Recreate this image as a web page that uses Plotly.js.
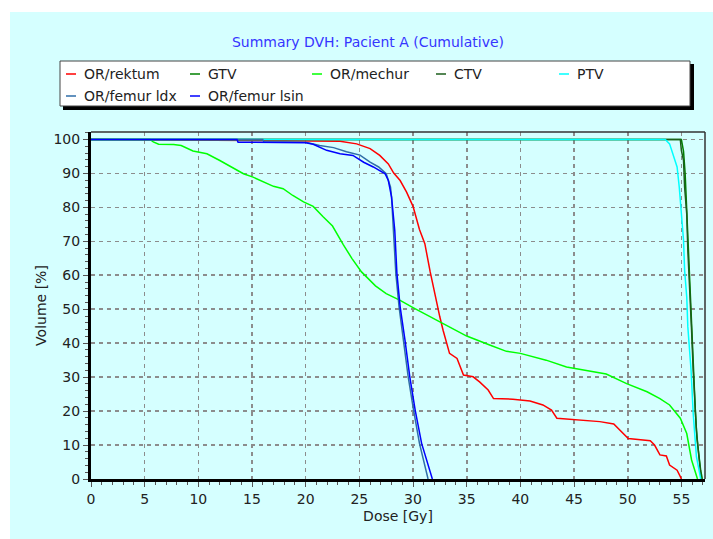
<!DOCTYPE html>
<html>
<head>
<meta charset="utf-8">
<script src="https://cdn.plot.ly/plotly-3.0.1.min.js"></script>
<style>html,body{margin:0;padding:0;background:#fff;}</style>
</head>
<body>
<div id="chart" style="width:713px;height:539px;"></div>
<script>
// ---- Data ----
const seriesNames = ["OR/rektum", "GTV", "OR/mechur", "CTV", "PTV", "OR/femur ldx", "OR/femur lsin"];
const seriesColors = ["#FF0000", "#008000", "#00FF00", "#1B5E1B", "#00FFFF", "#2F6EA8", "#0000FF"];

const doseRektum = [0, 23.2, 24.75, 26.0, 26.9, 27.7, 28.2, 28.8, 29.4, 30.0, 30.6, 31.1, 31.6, 32.0, 32.5, 32.8, 33.4, 34.1, 34.7, 35.6, 36.2, 37.0, 37.5, 39.3, 40.9, 42.1, 42.9, 43.4, 44.9, 46.2, 47.4, 48.7, 49.3, 50.05, 52.1, 52.5, 53.0, 53.6, 53.9, 54.6, 54.9, 55.0];
const volRektum  = [100, 99.5, 98.7, 97.3, 95.3, 92.8, 90.1, 87.9, 84.5, 80.3, 73.5, 69.3, 61.0, 54.6, 47.7, 43.8, 37.0, 35.5, 30.6, 30.1, 28.6, 26.2, 23.7, 23.5, 23.0, 21.8, 20.3, 17.9, 17.5, 17.2, 16.9, 16.2, 14.4, 11.9, 11.3, 10.0, 7.1, 6.8, 4.1, 2.6, 0.7, 0];

const doseGTV = [0, 55.0, 55.2, 55.35, 55.5, 55.65, 55.8, 55.95, 56.1, 56.3, 56.45, 56.65, 56.8, 56.95];
const volGTV  = [100, 100, 96.5, 90.0, 79.0, 67.0, 55.0, 43.0, 31.0, 20.0, 12.0, 6.0, 2.5, 0];

const doseMechur = [0, 5.5, 5.8, 6.3, 7.7, 8.4, 9.5, 10.8, 12.0, 14.2, 15.1, 17.0, 17.9, 18.8, 19.8, 20.7, 21.6, 22.5, 23.5, 24.3, 25.2, 26.5, 27.5, 28.8, 30.0, 31.0, 32.5, 35.0, 37.2, 38.7, 40.0, 42.4, 44.3, 46.8, 48.0, 49.9, 51.8, 53.0, 53.9, 54.9, 55.5, 55.95, 56.4, 56.5];
const volMechur  = [100, 100, 99.3, 98.6, 98.5, 98.2, 96.6, 95.8, 93.8, 89.9, 88.9, 86.2, 85.5, 83.5, 81.6, 80.3, 77.3, 74.5, 69.0, 65.0, 61.0, 56.9, 54.6, 52.6, 50.5, 48.8, 46.3, 42.1, 39.4, 37.6, 37.0, 35.0, 33.0, 31.6, 30.9, 28.1, 25.7, 23.7, 21.8, 17.9, 13.4, 5.6, 0.7, 0];

const doseCTV = [0, 54.9, 55.0, 55.2, 55.3, 55.5, 55.6, 55.8, 55.95, 56.1, 56.3, 56.4, 56.6, 56.75, 56.85];
const volCTV  = [100, 100, 96.8, 93.8, 86.0, 78.1, 67.4, 55.6, 43.8, 32.1, 21.3, 14.4, 7.6, 3.6, 0];

const dosePTV = [0, 53.5, 53.9, 54.2, 54.6, 54.8, 55.0, 55.2, 55.3, 55.5, 55.6, 55.9, 56.1, 56.4, 56.7, 56.8];
const volPTV  = [100, 100, 98.7, 95.8, 91.9, 86.0, 78.1, 70.3, 61.5, 53.6, 44.8, 32.1, 19.3, 6.6, 1.7, 0];

const doseFemurLdx = [0, 16.0, 16.1, 20.0, 21.3, 22.6, 23.8, 25.06, 26.0, 26.8, 27.5, 27.9, 28.0, 28.2, 28.4, 28.7, 29.1, 29.55, 30.05, 30.6, 31.4];
const volFemurLdx  = [100, 100, 99.3, 99.2, 98.2, 97.6, 96.4, 95.4, 93.3, 91.9, 89.9, 86.0, 83.0, 73.0, 60.5, 50.7, 40.9, 30.1, 20.3, 10.5, 0];

const doseFemurLsin = [0, 13.6, 13.7, 20.0, 20.7, 21.95, 23.2, 24.4, 25.4, 26.3, 27.4, 27.7, 28.0, 28.3, 28.5, 28.8, 29.25, 29.7, 30.2, 30.8, 31.8];
const volFemurLsin  = [100, 100, 99.2, 99.0, 98.6, 96.8, 95.8, 95.3, 93.3, 91.9, 89.9, 87.9, 83.0, 73.2, 60.5, 50.7, 40.9, 30.1, 20.3, 10.5, 0];

const xTickVals = [0, 5, 10, 15, 20, 25, 30, 35, 40, 45, 50, 55];
const yTickVals = [0, 10, 20, 30, 40, 50, 60, 70, 80, 90, 100];

const titleText = "Summary DVH: Pacient A (Cumulative)";
const xTitle = "Dose [Gy]";
const yTitle = "Volume [%]";

// ---- Build ----
const doses = [doseRektum, doseGTV, doseMechur, doseCTV, dosePTV, doseFemurLdx, doseFemurLsin];
const vols  = [volRektum, volGTV, volMechur, volCTV, volPTV, volFemurLdx, volFemurLsin];

const traces = seriesNames.map((n, i) => ({
  type: "scatter", mode: "lines", name: n,
  x: doses[i], y: vols[i],
  line: {color: seriesColors[i], width: 1.5},
  hoverinfo: "skip", showlegend: false
}));

// geometry helpers (pixel -> paper)
const L = 91, R = 8, T = 132, B = 60, W = 713, H = 539;
const PW = W - L - R, PH = H - T - B;
const px = v => (v - L) / PW;
const py = v => (H - B - v) / PH;

const FONT = "DejaVu Sans";
const shapes = [
  // cyan background panel
  {type: "rect", xref: "paper", yref: "paper", x0: px(10), x1: px(713), y0: py(539), y1: py(12),
   fillcolor: "#D5FFFF", line: {width: 0}, layer: "below"},
  // top & right frame
  {type: "line", xref: "paper", yref: "paper", x0: 0, x1: 1, y0: 1, y1: 1, line: {color: "#333", width: 1.5}},
  {type: "line", xref: "paper", yref: "paper", x0: 1, x1: 1, y0: 0, y1: 1, line: {color: "#333", width: 1.5}},
  // legend shadow & box
  {type: "rect", xref: "paper", yref: "paper", x0: px(63), x1: px(694), y0: py(110), y1: py(64),
   fillcolor: "#000", line: {width: 0}},
  {type: "rect", xref: "paper", yref: "paper", x0: px(60), x1: px(690), y0: py(106), y1: py(61),
   fillcolor: "#FFFFFF", line: {color: "#444", width: 1}}
];
const annotations = [];
const colX = [66, 190, 312, 436, 559];
const rowY = [74, 96];
seriesNames.forEach((n, i) => {
  const cx = colX[i % 5], ry = rowY[Math.floor(i / 5)];
  shapes.push({type: "line", xref: "paper", yref: "paper", x0: px(cx), x1: px(cx + 10), y0: py(ry), y1: py(ry),
    line: {color: seriesColors[i], width: 1.5}});
  annotations.push({xref: "paper", yref: "paper", x: px(cx + 16), y: py(ry), xanchor: "left", yanchor: "middle",
    text: n, showarrow: false, font: {family: FONT, size: 14, color: "#222"}});
});

const layout = {
  width: W, height: H,
  margin: {l: L, r: R, t: T, b: B, pad: 0},
  paper_bgcolor: "#FFFFFF", plot_bgcolor: "#D5FFFF",
  font: {family: FONT, size: 14, color: "#222"},
  title: {text: titleText, font: {family: FONT, size: 14, color: "#3535FF"},
          xref: "paper", x: px(368), xanchor: "center", yref: "container", y: 1 - 42 / H, yanchor: "middle"},
  showlegend: false,
  xaxis: {
    range: [0, 57.2], tickvals: xTickVals, ticks: "outside", ticklen: 5, tickcolor: "#555", tickwidth: 1,
    showgrid: true, gridcolor: "#8C8C8C", griddash: "4px,4px", gridwidth: 1.6,
    showline: true, linecolor: "#000", linewidth: 3, zeroline: false,
    minor: {dtick: 1, tick0: 0, ticks: "outside", ticklen: 3, tickcolor: "#555", showgrid: false},
    tickfont: {family: FONT, size: 14, color: "#222"},
    title: {text: xTitle, font: {family: FONT, size: 14, color: "#222"}, standoff: 6},
    fixedrange: true
  },
  yaxis: {
    range: [0, 102.2], tickvals: yTickVals, ticks: "outside", ticklen: 5, tickcolor: "#555", tickwidth: 1,
    showgrid: true, gridcolor: "#8C8C8C", griddash: "4px,4px", gridwidth: 1.6,
    showline: true, linecolor: "#000", linewidth: 3, zeroline: false,
    minor: {dtick: 2, tick0: 0, ticks: "outside", ticklen: 3, tickcolor: "#555", showgrid: false},
    tickfont: {family: FONT, size: 14, color: "#222"},
    title: {text: yTitle, font: {family: FONT, size: 14, color: "#222"}, standoff: 4},
    fixedrange: true
  },
  shapes: shapes,
  annotations: annotations
};

Plotly.newPlot("chart", traces, layout, {displayModeBar: false, staticPlot: true});
</script>
</body>
</html>
